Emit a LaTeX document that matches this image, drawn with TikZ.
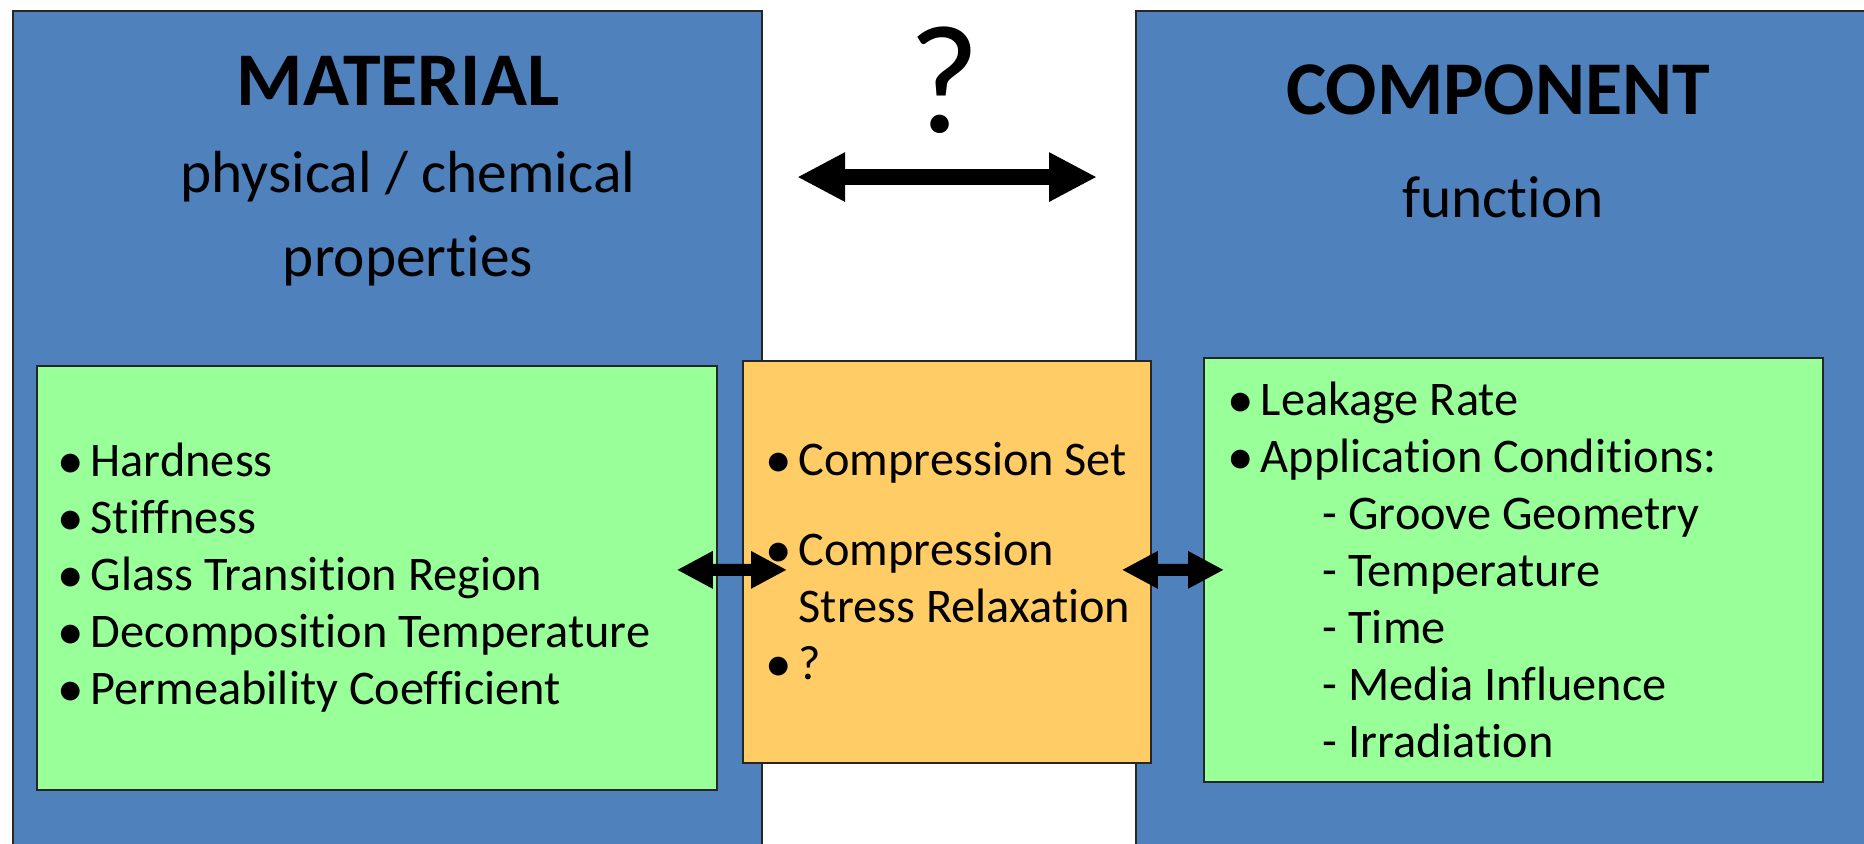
\documentclass[tikz,border=0pt]{standalone}
\usepackage{fontspec}
\setmainfont{Carlito}[Ligatures=NoCommon]
\usetikzlibrary{arrows.meta, positioning}
\definecolor{panelfill}{RGB}{79,129,189}
\definecolor{propfill}{RGB}{153,255,153}
\definecolor{testfill}{RGB}{255,204,102}
\tikzset{
  panel/.style={rectangle, draw=black!85, line width=0.6pt, fill=panelfill, anchor=north west, inner sep=0pt},
  greenbox/.style={rectangle, draw=black!85, line width=0.5pt, fill=propfill, anchor=north west, inner sep=0pt},
  testbox/.style={rectangle, draw=black!85, line width=0.5pt, fill=testfill, anchor=north west, inner sep=0pt},
  listtext/.style={align=left, inner sep=0pt, font=\fontsize{13.75}{16.2}\selectfont},
  headline/.style={anchor=base, inner sep=0pt, font=\fontsize{21.6}{26}\selectfont\bfseries},
  subline/.style={anchor=base, inner sep=0pt, font=\fontsize{16.9}{19}\selectfont},
  qbig/.style={anchor=base, inner sep=0pt, font=\fontsize{44}{50}\selectfont},
  dbl/.style={{Triangle[length=0.36cm, width=0.35cm]}-{Triangle[length=0.36cm, width=0.35cm]}, line width=0.12cm},
  bigdbl/.style={{Triangle[length=0.48cm, width=0.46cm]}-{Triangle[length=0.48cm, width=0.46cm]}, line width=0.16cm}
}
\newcommand{\bul}{\makebox[0.33cm][l]{\raisebox{-0.03em}{\scalebox{1.1}{\textbullet}}}}

\begin{document}
\begin{tikzpicture}
\useasboundingbox (0,0) rectangle (18.64,-8.44);
\clip (0,0) rectangle (18.64,-8.44);
% the two panels
\node[panel, minimum width=7.49cm, minimum height=8.6cm] (material) at (0.12,-0.10) {};
\node[panel, minimum width=7.6cm, minimum height=8.6cm] (component) at (11.35,-0.10) {};
\node[headline] (mathead) at (3.98,-1.06) {MATERIAL};
\node[subline] (matsub) at (4.08,-1.93) {physical / chemical};
\node[subline] (matprop) at (4.08,-2.77) {properties};
\node[headline] (comphead) at (14.98,-1.15) {COMPONENT};
\node[subline] (compsub) at (15.03,-2.18) {function};
\node[qbig] (qmark) at (9.44,-1.33) {?};
% inner boxes
\node[greenbox, minimum width=6.80cm, minimum height=4.24cm] (props) at (0.36,-3.65) {};
\node[testbox, minimum width=4.08cm, minimum height=4.02cm] (tests) at (7.42,-3.60) {};
\node[greenbox, minimum width=6.19cm, minimum height=4.24cm] (cond) at (12.03,-3.57) {};
\node[listtext, right=0.21cm of props.west] (proplist) {\bul Hardness\\ \bul Stiffness\\ \bul Glass Transition Region\\ \bul Decomposition Temperature\\ \bul Permeability Coefficient};
\node[listtext, right=0.23cm of tests.west] (testlist) {\bul Compression Set\\[0.33cm] \bul Compression\\ \hspace*{0.33cm}Stress Relaxation\\ \bul ?};
\node[listtext, right=0.24cm of cond.west] (condlist) {\bul Leakage Rate\\ \bul Application Conditions:\\ \hspace*{0.95cm}- Groove Geometry\\ \hspace*{0.95cm}- Temperature\\ \hspace*{0.95cm}- Time\\ \hspace*{0.95cm}- Media Influence\\ \hspace*{0.95cm}- Irradiation};
% arrows
\draw[bigdbl] ([shift={(0.34,2.64)}]material.east) -- ([shift={(-0.38,2.64)}]component.west);
\draw[dbl] ([shift={(-0.41,0.08)}]props.east) -- ([shift={(0.45,-0.08)}]tests.west);
\draw[dbl] ([shift={(-0.30,-0.08)}]tests.east) -- ([shift={(0.21,0)}]cond.west);
\end{tikzpicture}
\end{document}
